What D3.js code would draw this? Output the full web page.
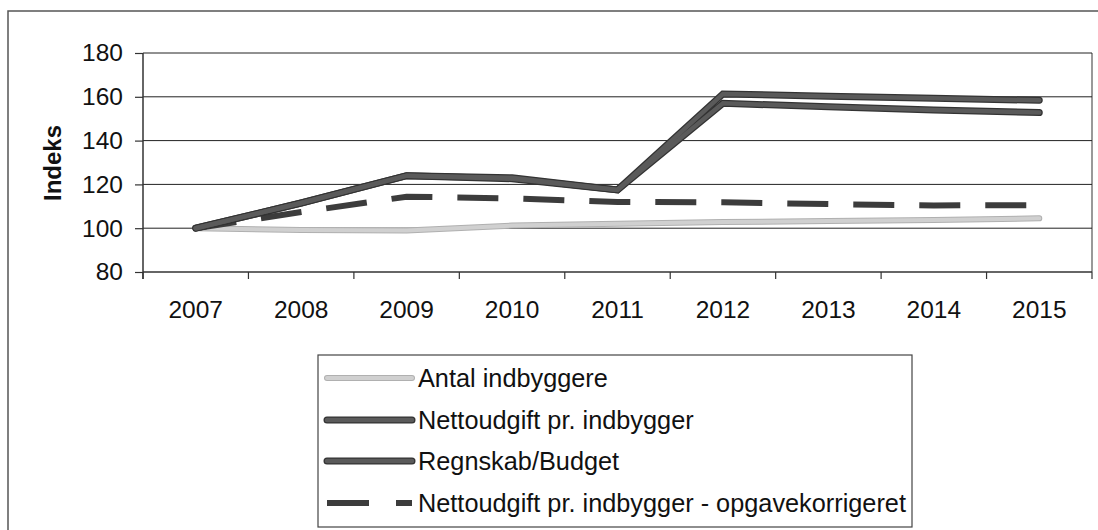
<!DOCTYPE html>
<html>
<head>
<meta charset="utf-8">
<script src="https://cdn.jsdelivr.net/npm/d3@7"></script>
<style>
  html, body { margin: 0; padding: 0; background: #fff; }
  svg { display: block; }
  text { font-family: "Liberation Sans", Arial, sans-serif; fill: #111; }
</style>
</head>
<body>
<script>
// ---- data ----
const years = ["2007","2008","2009","2010","2011","2012","2013","2014","2015"];
const antalIndbyggere = [100, 99.2, 99, 101.2, 102, 102.8, 103.3, 103.8, 104.5];
const nettoudgiftPrIndbygger = [100, 111.5, 124, 122.6, 117.5, 157, 155.5, 154, 152.8];
const regnskabBudget = [100, 111.5, 124, 123, 117.5, 161.3, 160.3, 159.3, 158.4];
const nettoudgiftKorrigeret = [100, 107.4, 114.4, 113.6, 112, 111.8, 111, 110.4, 110.5];
const yTicks = [80, 100, 120, 140, 160, 180];
const seriesNames = ["Antal indbyggere", "Nettoudgift pr. indbygger", "Regnskab/Budget", "Nettoudgift pr. indbygger - opgavekorrigeret"];
const yTitle = "Indeks";

const W = 1098, H = 530;
const svg = d3.select("body").append("svg").attr("width", W).attr("height", H);

// outer chart frame (extends beyond the visible crop)
svg.append("rect").attr("x", 8).attr("y", 11).attr("width", W + 20).attr("height", H + 20)
  .attr("fill", "none").attr("stroke", "#555").attr("stroke-width", 1.5);

const plot = { left: 143, right: 1092, top: 53, bottom: 272 };
const x = d3.scaleBand().domain(years).range([plot.left, plot.right]).paddingInner(0).paddingOuter(0);
const y = d3.scaleLinear().domain([80, 180]).range([plot.bottom, plot.top]);
const cx = d => x(d) + x.bandwidth() / 2;

// plot area right border
svg.append("line").attr("x1", plot.right).attr("x2", plot.right)
  .attr("y1", plot.top).attr("y2", plot.bottom).attr("stroke", "#555").attr("stroke-width", 1.2);

// gridlines
svg.append("g").selectAll("line").data(yTicks.filter(t => t > 80)).join("line")
  .attr("x1", plot.left).attr("x2", plot.right)
  .attr("y1", d => y(d)).attr("y2", d => y(d))
  .attr("stroke", "#222").attr("stroke-width", 1);

// y axis
const yAxis = d3.axisLeft(y).tickValues(yTicks).tickSize(8).tickPadding(12).tickSizeOuter(0);
const gy = svg.append("g").attr("transform", `translate(${plot.left},0)`).call(yAxis);
gy.select(".domain").attr("stroke", "#333").attr("stroke-width", 1.5)
  .attr("d", `M0,${plot.top}V${plot.bottom + 7}`);
gy.selectAll(".tick line").attr("stroke", "#333").attr("stroke-width", 1.2);
gy.selectAll(".tick text").attr("font-size", 24.5).attr("fill", "#111")
  .style("font-family", '"Liberation Sans", Arial, sans-serif');

// x axis (ticks at category boundaries)
const gx = svg.append("g").attr("transform", `translate(0,${plot.bottom})`);
gx.append("line").attr("x1", plot.left).attr("x2", plot.right).attr("y1", 0).attr("y2", 0)
  .attr("stroke", "#333").attr("stroke-width", 1.5);
const bounds = years.map(d => x(d)).concat([plot.right]);
gx.selectAll("line.tk").data(bounds).join("line").attr("class", "tk")
  .attr("x1", d => d).attr("x2", d => d).attr("y1", 0).attr("y2", 7)
  .attr("stroke", "#333").attr("stroke-width", 1.2);
gx.selectAll("text").data(years).join("text")
  .attr("x", d => cx(d)).attr("y", 46).attr("text-anchor", "middle")
  .attr("font-size", 24.5).text(d => d);

// y title
svg.append("text").attr("transform", `translate(61,163) rotate(-90)`)
  .attr("text-anchor", "middle").attr("font-size", 24).attr("font-weight", "bold").text(yTitle);

const line = d3.line().x((d, i) => cx(years[i])).y(d => y(d));

// Antal indbyggere (light)
svg.append("path").attr("d", line(antalIndbyggere)).attr("fill", "none")
  .attr("stroke", "#b0b0b0").attr("stroke-width", 6).attr("stroke-linejoin", "round").attr("stroke-linecap", "round");
svg.append("path").attr("d", line(antalIndbyggere)).attr("fill", "none")
  .attr("stroke", "#d0d0d0").attr("stroke-width", 4).attr("stroke-linejoin", "round").attr("stroke-linecap", "round");

// dashed series
svg.append("path").attr("d", line(nettoudgiftKorrigeret)).attr("fill", "none")
  .attr("stroke", "#3c3c3c").attr("stroke-width", 6).attr("stroke-dasharray", "41,25");

// dark solid series
[nettoudgiftPrIndbygger, regnskabBudget].forEach(s => {
  svg.append("path").attr("d", line(s)).attr("fill", "none")
    .attr("stroke", "#333").attr("stroke-width", 7).attr("stroke-linejoin", "miter").attr("stroke-linecap", "round");
});
[nettoudgiftPrIndbygger, regnskabBudget].forEach(s => {
  svg.append("path").attr("d", line(s)).attr("fill", "none")
    .attr("stroke", "#5a5a5a").attr("stroke-width", 4.5).attr("stroke-linejoin", "miter").attr("stroke-linecap", "round");
});

// legend
const lg = svg.append("g");
lg.append("rect").attr("x", 318).attr("y", 355).attr("width", 594).attr("height", 172)
  .attr("fill", "#fff").attr("stroke", "#444").attr("stroke-width", 1.2);
const rowY = [378, 420, 461, 503];
const styles = [
  { layers: [["#b0b0b0", 6], ["#d0d0d0", 4]], dash: null },
  { layers: [["#333", 7], ["#5a5a5a", 4.5]], dash: null },
  { layers: [["#333", 7], ["#5a5a5a", 4.5]], dash: null },
  { layers: [["#3c3c3c", 6]], dash: "42,27" }
];
seriesNames.forEach((name, i) => {
  const st = styles[i];
  st.layers.forEach(([c, w]) => {
    const l = lg.append("line").attr("x1", 327).attr("x2", 412).attr("y1", rowY[i]).attr("y2", rowY[i])
      .attr("stroke", c).attr("stroke-width", w).attr("stroke-linecap", st.dash ? "butt" : "round");
    if (st.dash) l.attr("stroke-dasharray", st.dash);
  });
  lg.append("text").attr("x", 418).attr("y", rowY[i] + 9).attr("font-size", 25.3).text(name);
});
</script>
</body>
</html>
